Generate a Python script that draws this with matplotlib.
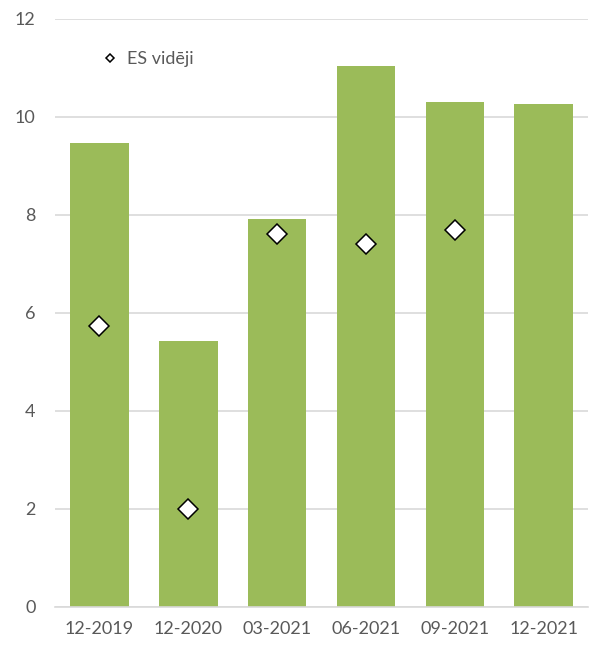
import matplotlib
matplotlib.use('Agg')
import matplotlib.pyplot as plt
import numpy as np

# Quarterly values and EU average
periods = ['12-2019', '12-2020', '03-2021', '06-2021', '09-2021', '12-2021']
country_values = [9.47, 5.43, 7.92, 11.04, 10.31, 10.27]
eu_periods = ['12-2019', '12-2020', '03-2021', '06-2021', '09-2021']
eu_average = [5.73, 2.0, 7.61, 7.41, 7.69]

plt.rcParams['font.family'] = ['Lato', 'DejaVu Sans']

fig = plt.figure(figsize=(5.9, 6.48), dpi=100)
ax = fig.add_axes([0.093, 0.0633, 0.904, 0.9074])

x = np.arange(len(periods))
ax.bar(x, country_values, width=0.66, color='#9BBB59', zorder=2)

eu_x = [periods.index(p) for p in eu_periods]
ax.plot(eu_x, eu_average, linestyle='none', marker='D', markersize=10,
        markerfacecolor='white', markeredgecolor='black', markeredgewidth=1.1,
        label='ES vidēji', zorder=3)

ax.set_xlim(-0.5, 5.5)
ax.set_ylim(0, 12)
ax.set_yticks(range(0, 13, 2))
ax.set_xticks(x)
ax.set_xticklabels(periods)

ax.grid(axis='y', color='#D9D9D9', linewidth=1.2, zorder=0)
ax.set_axisbelow(True)
for side in ['top', 'right', 'left']:
    ax.spines[side].set_visible(False)
ax.spines['bottom'].set_color('#D9D9D9')
ax.spines['bottom'].set_linewidth(1.2)
ax.tick_params(axis='both', length=0, labelsize=13, colors='#595959')
ax.tick_params(axis='y', pad=14)
ax.tick_params(axis='x', pad=10)

ax.legend(loc='upper left', bbox_to_anchor=(0.053, 0.973), frameon=False,
          markerscale=0.45, handlelength=1.2, handletextpad=0.35,
          fontsize=13, labelcolor='#595959')

fig.savefig('out.png', dpi=100)
